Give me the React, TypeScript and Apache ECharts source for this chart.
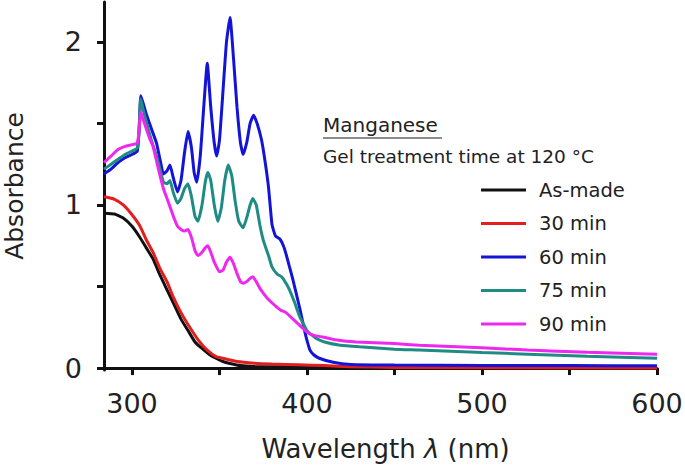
import React, { useEffect, useRef } from "react";
import * as echarts from "echarts";

const seriesNames = ["As-made", "30 min", "60 min", "75 min", "90 min"];
const seriesColors = ["#111111", "#e41e1e", "#1414d8", "#1e8c84", "#ee28ee"];

const wlAsMade = [284, 290, 295, 300, 304, 308, 312, 314, 316, 320, 324, 328, 332, 336, 340, 344, 348, 352, 356, 362, 370, 400, 450, 600];
const absAsMade = [0.95, 0.945, 0.92, 0.87, 0.81, 0.74, 0.67, 0.62, 0.57, 0.48, 0.39, 0.3, 0.23, 0.16, 0.12, 0.085, 0.06, 0.04, 0.028, 0.015, 0.01, 0.005, 0.003, 0.0];

const wl30 = [284, 290, 295, 300, 304.6, 308, 312, 314, 316, 320, 323.4, 328, 333, 338, 343, 348, 352, 360, 370, 380, 395, 410, 425, 450, 600];
const abs30 = [1.05, 1.035, 1.0, 0.94, 0.87, 0.79, 0.71, 0.66, 0.61, 0.53, 0.44, 0.34, 0.25, 0.17, 0.11, 0.07, 0.06, 0.04, 0.03, 0.025, 0.02, 0.015, 0.008, 0.004, 0.0];

const wl60 = [284, 288, 292, 296, 300, 303, 304, 305, 306.5, 308.4, 311, 314, 316, 318, 320, 321.7, 323.5, 326, 328, 330, 332, 334, 335.5, 337, 339, 341, 343, 345, 347, 348.4, 350, 352, 354, 356, 358, 360, 362, 363.5, 365.5, 367.5, 369.5, 371.5, 374, 376, 378, 380, 382, 384.6, 386.5, 388, 390, 392, 394, 396, 398, 399.5, 401.7, 404, 407, 415, 425, 450, 500, 550, 600];
const abs60 = [1.19, 1.22, 1.26, 1.29, 1.31, 1.33, 1.45, 1.67, 1.62, 1.55, 1.47, 1.38, 1.28, 1.19, 1.21, 1.245, 1.17, 1.08, 1.15, 1.32, 1.45, 1.35, 1.2, 1.14, 1.3, 1.6, 1.87, 1.6, 1.38, 1.3, 1.4, 1.7, 2.0, 2.15, 1.9, 1.6, 1.38, 1.31, 1.38, 1.5, 1.55, 1.5, 1.4, 1.27, 1.11, 0.88, 0.81, 0.79, 0.75, 0.7, 0.62, 0.54, 0.45, 0.36, 0.26, 0.19, 0.11, 0.08, 0.06, 0.035, 0.022, 0.018, 0.016, 0.015, 0.014];

const wl75 = [284, 288, 292, 296, 300, 303, 304, 305, 306.5, 308.4, 311, 314, 316, 318, 320, 321.7, 323.5, 326, 328, 330, 332, 334, 336, 337.7, 340, 342, 343.4, 345, 347, 349, 351, 353, 355, 357, 359, 361, 363.5, 365.5, 367.5, 369, 371, 373, 375, 378, 380, 383, 385.5, 388, 390, 393, 396, 398, 400, 403, 405.5, 410, 419, 430, 450, 464, 500, 526, 560, 600];
const abs75 = [1.22, 1.25, 1.28, 1.31, 1.33, 1.35, 1.45, 1.65, 1.58, 1.5, 1.4, 1.3, 1.22, 1.14, 1.13, 1.15, 1.08, 1.01, 1.04, 1.1, 1.13, 1.05, 0.93, 0.9, 1.0, 1.15, 1.2, 1.15, 1.0, 0.9, 0.98, 1.15, 1.245, 1.18, 1.02, 0.9, 0.86, 0.92, 1.0, 1.04, 1.0, 0.88, 0.785, 0.69, 0.62, 0.575, 0.56, 0.52, 0.48, 0.4, 0.31, 0.27, 0.23, 0.2, 0.18, 0.16, 0.14, 0.13, 0.115, 0.11, 0.095, 0.085, 0.072, 0.06];

const wl90 = [284, 288, 292, 296, 300, 303, 304, 305, 306.5, 308.4, 310, 312, 314, 316, 318, 320, 321.7, 324, 326, 328, 330, 332, 334, 336, 337.7, 340, 342, 343.4, 345, 347, 350, 352, 354, 356, 358, 360, 362, 363.5, 365.5, 367.5, 369, 371, 373, 375, 378, 382.6, 385, 388, 391, 394, 397, 400, 404, 409, 418, 428, 450, 464, 500, 526, 560, 600];
const abs90 = [1.26, 1.3, 1.34, 1.36, 1.37, 1.38, 1.45, 1.57, 1.52, 1.46, 1.41, 1.36, 1.27, 1.18, 1.1, 1.04, 0.99, 0.92, 0.87, 0.85, 0.84, 0.85, 0.8, 0.72, 0.69, 0.71, 0.74, 0.75, 0.71, 0.65, 0.59, 0.6, 0.65, 0.68, 0.64, 0.58, 0.53, 0.52, 0.53, 0.55, 0.56, 0.53, 0.49, 0.46, 0.42, 0.375, 0.355, 0.34, 0.31, 0.28, 0.25, 0.22, 0.2, 0.19, 0.17, 0.16, 0.15, 0.14, 0.125, 0.11, 0.097, 0.084];

const xTickValues = [300, 350, 400, 450, 500, 550, 600];
const xLabelValues = [300, 400, 500, 600];
const yTickValues = [0, 0.5, 1, 1.5, 2];
const yLabelValues = [0, 1, 2];

const titleText = "Manganese";
const subtitleText = "Gel treatment time at 120 °C";

const FONT = "DejaVu Sans";

export default function App() {
  const ref = useRef<HTMLDivElement>(null);
  useEffect(() => {
    document.body.style.margin = "0";
    if (!ref.current) return;
    const chart = echarts.init(ref.current, null, { renderer: "svg" });
    const wls = [wlAsMade, wl30, wl60, wl75, wl90];
    const abss = [absAsMade, abs30, abs60, abs75, abs90];
    const series = seriesNames.map((name, k) => ({
      name,
      type: "line",
      data: wls[k].map((x, i) => [x, abss[k][i]]),
      showSymbol: false,
      symbol: "none",
      lineStyle: { color: seriesColors[k], width: 3 },
      itemStyle: { color: seriesColors[k] },
      smooth: 0.15,
    }));
    chart.setOption({
      animation: false,
      backgroundColor: "#ffffff",
      textStyle: { fontFamily: FONT },
      grid: { left: 104, right: 28, top: 2, bottom: 96, containLabel: false, outerBoundsMode: "none" },
      xAxis: {
        type: "value",
        min: 284,
        max: 600,
        name: "Wavelength {i|λ} (nm)",
        nameLocation: "middle",
        nameGap: 66,
        nameTextStyle: {
          fontFamily: FONT,
          fontSize: 26,
          color: "#222",
          padding: [0, 0, 0, 10],
          rich: { i: { fontStyle: "italic", fontFamily: FONT, fontSize: 26, color: "#222" } },
        },
        axisLine: { show: true, lineStyle: { color: "#111", width: 3 } },
        axisTick: { show: true, length: 7, inside: false, customValues: xTickValues, lineStyle: { color: "#111", width: 3 } },
        axisLabel: { customValues: xLabelValues, fontSize: 27, fontFamily: FONT, color: "#222", margin: 20 },
        splitLine: { show: false },
      },
      yAxis: {
        type: "value",
        min: -0.012,
        max: 2.245,
        name: "Absorbance",
        nameLocation: "middle",
        nameGap: 77,
        nameTextStyle: { fontFamily: FONT, fontSize: 25, color: "#222" },
        axisLine: { show: true, lineStyle: { color: "#111", width: 3 } },
        axisTick: { show: true, length: 7, inside: false, customValues: yTickValues, lineStyle: { color: "#111", width: 3 } },
        axisLabel: { customValues: yLabelValues, fontSize: 27, fontFamily: FONT, color: "#222", margin: 22 },
        splitLine: { show: false },
      },
      legend: {
        orient: "vertical",
        left: 481,
        top: 180,
        padding: 0,
        itemWidth: 45,
        itemHeight: 3,
        itemGap: 13.5,
        icon: "rect",
        data: seriesNames,
        textStyle: { fontFamily: FONT, fontSize: 19.5, color: "#222", lineHeight: 20, padding: [0, 0, 0, 8] },
      },
      graphic: [
        {
          type: "text",
          left: 323,
          top: 115,
          style: { text: titleText, fontFamily: FONT, fontSize: 20, fill: "#222" },
        },
        {
          type: "line",
          shape: { x1: 323, y1: 138, x2: 442, y2: 138 },
          style: { stroke: "#666", lineWidth: 1.5 },
        },
        {
          type: "text",
          left: 323,
          top: 147,
          style: { text: subtitleText, fontFamily: FONT, fontSize: 18.5, fill: "#222" },
        },
      ],
      series,
    });
    return () => chart.dispose();
  }, []);
  return <div ref={ref} style={{ width: 685, height: 466 }} />;
}
